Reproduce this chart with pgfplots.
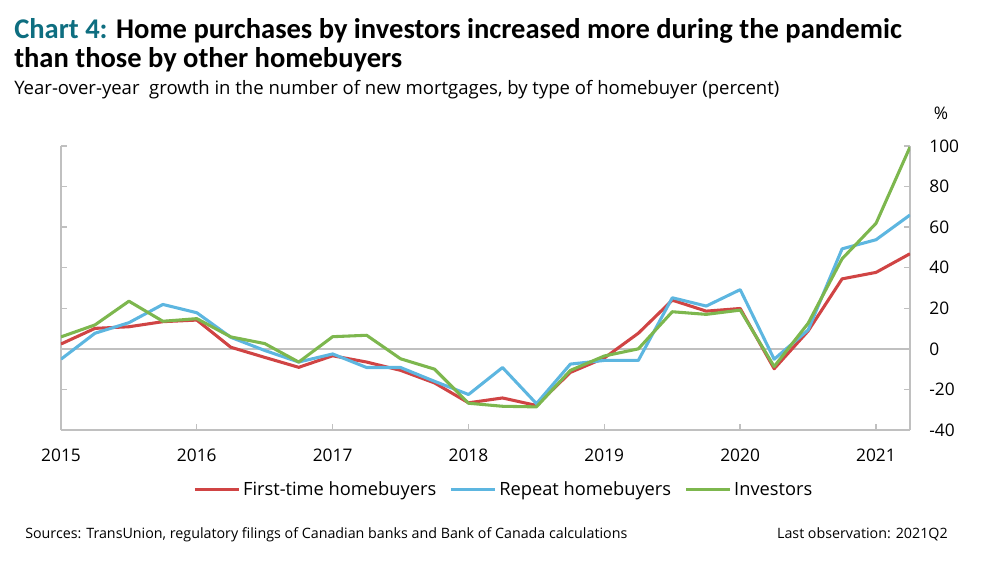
\documentclass[border=0pt]{standalone}
\usepackage{pgfplots}
\pgfplotsset{compat=1.18}
\usepackage{pgfplotstable}
\usepackage{fontspec}
\setmainfont{Open Sans}
\newfontfamily\titlefont{Carlito}
\definecolor{cred}{RGB}{208,68,68}
\definecolor{cblue}{RGB}{93,182,224}
\definecolor{cgreen}{RGB}{125,183,78}
\definecolor{cteal}{RGB}{14,110,128}
\definecolor{cgrid}{RGB}{192,192,192}

\pgfplotstableread{
x R B G
2015.00 2.4 -5.1 5.9
2015.25 10.1 7.7 11.8
2015.50 10.9 12.9 23.5
2015.75 13.4 21.9 13.6
2016.00 14.2 17.8 14.9
2016.25 0.8 5.7 5.9
2016.50 -4.2 -0.8 2.6
2016.75 -9.1 -6.5 -6.5
2017.00 -3.4 -2.5 6.0
2017.25 -6.5 -9.2 6.7
2017.50 -10.6 -9.2 -4.9
2017.75 -16.8 -16.0 -10.0
2018.00 -26.6 -22.5 -26.8
2018.25 -24.2 -9.2 -28.3
2018.50 -27.9 -27.0 -28.6
2018.75 -11.6 -7.5 -10.6
2019.00 -4.5 -5.7 -3.5
2019.25 7.7 -5.7 0.0
2019.50 24.0 25.2 18.3
2019.75 18.6 21.1 17.0
2020.00 19.9 29.2 19.1
2020.25 -9.8 -5.1 -8.7
2020.50 8.8 9.3 12.6
2020.75 34.5 49.3 44.4
2021.00 37.7 53.8 61.9
2021.25 46.9 66.0 99.5
}\datatable

\begin{document}
\begin{tikzpicture}
\path[use as bounding box] (0,0) rectangle (744pt,-423.75pt);

% titles
\node[anchor=base west, inner sep=0pt, font=\titlefont\bfseries\fontsize{21.4}{25}\selectfont] at ({14*0.75pt},{-38*0.75pt}) {\textcolor{cteal}{Chart 4:} Home purchases by investors increased more during the pandemic};
\node[anchor=base west, inner sep=0pt, font=\titlefont\bfseries\fontsize{21.4}{25}\selectfont] at ({14*0.75pt},{-67*0.75pt}) {than those by other homebuyers};
\node[anchor=base west, inner sep=0pt, font=\fontsize{13.9}{16}\selectfont] at ({14*0.75pt},{-94*0.75pt}) {Year-over-year\ \ growth in the number of new mortgages, by type of homebuyer (percent)};
\node[anchor=center, inner sep=0pt, font=\fontsize{13}{15}\selectfont] at ({941*0.75pt},{-113*0.75pt}) {\%};

% left axis line with inward ticks
\begin{axis}[
  at={(45.75pt,-109.5pt)}, anchor=north west,
  scale only axis, width=636.75pt, height=213pt,
  xmin=2015, xmax=2021.25, ymin=-40, ymax=100,
  axis x line=none, axis y line*=left,
  ytick={-40,-20,...,100}, yticklabels={},
  tick align=inside, major tick length=4.5pt,
  axis line style={cgrid, line width=1pt},
  tick style={cgrid, line width=1pt},
]
\end{axis}

\begin{axis}[
  at={(45.75pt,-109.5pt)}, anchor=north west,
  scale only axis, width=636.75pt, height=213pt,
  xmin=2015, xmax=2021.25, ymin=-40, ymax=100,
  axis x line*=bottom, axis y line*=right,
  ytick={-40,-20,...,100}, xtick={2015,...,2021},
  extra y ticks={0}, extra y tick labels={},
  extra y tick style={grid=major, major grid style={cgrid, line width=1pt}},
  tick align=inside, major tick length=4.5pt,
  axis line style={cgrid, line width=1pt, -},
  tick style={cgrid, line width=1pt},
  /pgf/number format/assume math mode=true,
  /pgf/number format/1000 sep={},
  tick label style={font=\fontsize{13}{15}\selectfont, text=black},
  yticklabel style={anchor=west, xshift=11pt},
  xticklabel style={yshift=-11pt},
  legend style={at={(0.522,-0.211)}, anchor=center, draw=none, fill=none,
    font=\fontsize{13.7}{15}\selectfont, legend columns=3,
    /tikz/every even column/.append style={column sep=8pt}},
  legend image code/.code={\draw[#1] (0pt,0pt) -- (33pt,0pt);},
  every axis plot/.append style={line width=2.3pt, line join=round},
]
\addplot[cred] table[x=x, y=R] {\datatable};
\addlegendentry{First-time homebuyers}
\addplot[cblue] table[x=x, y=B] {\datatable};
\addlegendentry{Repeat homebuyers}
\addplot[cgreen] table[x=x, y=G] {\datatable};
\addlegendentry{Investors}
\end{axis}

\node[anchor=base west, inner sep=0pt, font=\fontsize{10.7}{13}\selectfont] at ({25*0.75pt},{-538*0.75pt}) {Sources: TransUnion, regulatory filings of Canadian banks and Bank of Canada calculations};
\node[anchor=base east, inner sep=0pt, font=\fontsize{10.7}{13}\selectfont] at ({948*0.75pt},{-538*0.75pt}) {Last observation: 2021Q2};
\end{tikzpicture}
\end{document}
